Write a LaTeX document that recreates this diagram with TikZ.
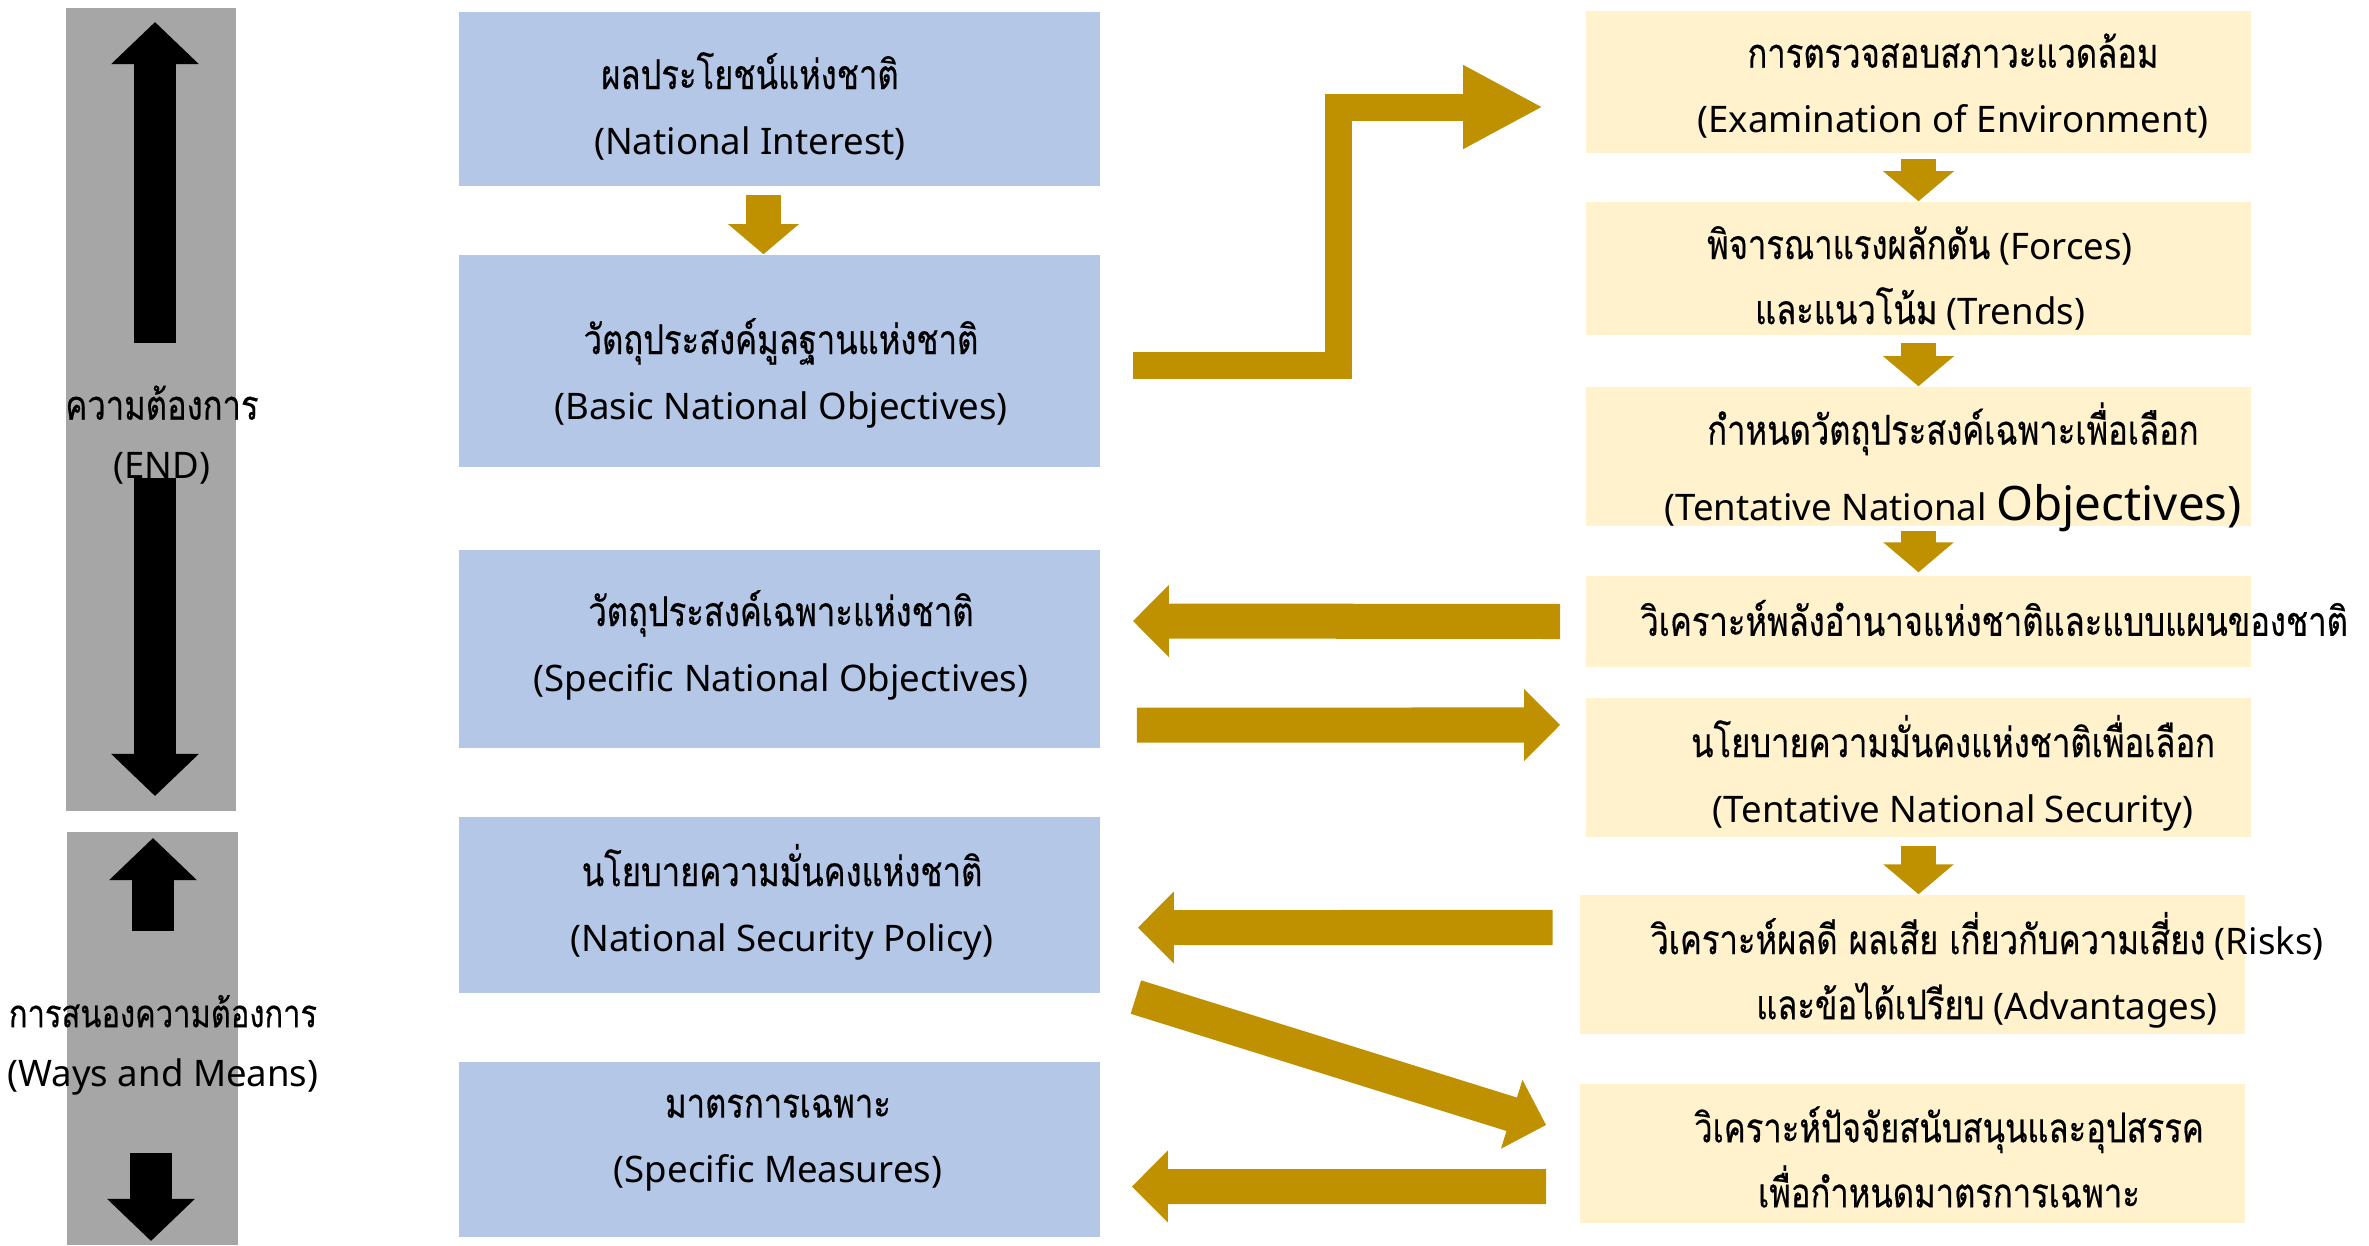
\documentclass[tikz,border=0pt]{standalone}
\usepackage{fontspec}
\setmainfont{Noto Sans}
\newfontfamily\thaifont[Script=Thai,Scale=1.12,FakeStretch=0.8,FakeBold=0.4]{Loma}
\usetikzlibrary{arrows.meta,positioning}
\definecolor{boxblue}{RGB}{180,199,231}
\definecolor{boxyellow}{RGB}{255,242,204}
\definecolor{arrowgold}{RGB}{191,144,0}
\definecolor{bargrey}{RGB}{166,166,166}
\newcommand{\tht}[1]{{\thaifont #1}}

\begin{document}
\begin{tikzpicture}[x=0.01cm,y=-0.01cm,
  bbox/.style={fill=boxblue,inner sep=0pt,minimum width=6.41cm},
  ybox/.style={fill=boxyellow,inner sep=0pt,minimum width=6.65cm},
  gbar/.style={fill=bargrey,inner sep=0pt,minimum width=1.7cm},
  txt/.style={align=center,inner sep=0pt,font=\fontsize{10.4}{18.5}\selectfont},
  sidetxt/.style={align=center,inner sep=0pt,font=\fontsize{10.4}{16.8}\selectfont},
  bigarrow/.style={arrowgold,line width=0.35cm,-{Triangle[length=0.36cm 0,width=0.7cm 0]}},
  smallarrow/.style={arrowgold,line width=0.35cm,-{Triangle[length=0.3cm 0,width=0.69cm 0]}},
  bentarrow/.style={arrowgold,line width=0.27cm,line join=miter,-{Triangle[length=0.8cm 0,width=0.78cm 0]}},
  blackarrow/.style={black,line width=0.42cm,-{Triangle[length=0.42cm 0,width=0.85cm 0]}}]
\useasboundingbox (0,0) rectangle (2369,1245);

% left bars
\node[gbar,minimum height=8.03cm] (g1) at (151,409.5) {};
\node[gbar,minimum height=4.13cm] (g2) at (152.5,1038.5) {};
\draw[blackarrow] (155,343) -- (155,22);
\draw[blackarrow] (155,478) -- (155,796);
\draw[blackarrow] (153,931) -- (153,838);
\draw[blackarrow] (151,1153) -- (151,1241);
\node[sidetxt] (need) at (162,435) {\tht{ความต้องการ}\\(END)};
\node[sidetxt] (means) at (163,1045) {{\fontsize{9.8}{16.8}\selectfont\tht{การสนองความต้องการ}}\\(Ways and Means)};

% blue column
\node[bbox,minimum height=1.74cm] (b1) at (779.5,99) {};
\node[bbox,minimum height=2.12cm] (b2) at (779.5,361) {};
\node[bbox,minimum height=1.98cm] (b3) at (779.5,649) {};
\node[bbox,minimum height=1.76cm] (b4) at (779.5,905) {};
\node[bbox,minimum height=1.75cm] (b5) at (779.5,1149.5) {};
\node[txt] (tb1) at (750,106) {\tht{ผลประโยชน์แห่งชาติ}\\(National Interest)};
\node[txt] (tb2) at (781,373) {\tht{วัตถุประสงค์มูลฐานแห่งชาติ}\\(Basic National Objectives)};
\node[txt] (tb3) at (781,645) {\tht{วัตถุประสงค์เฉพาะแห่งชาติ}\\(Specific National Objectives)};
\node[txt] (tb4) at (782,902) {\tht{นโยบายความมั่นคงแห่งชาติ}\\(National Security Policy)};
\node[txt] (tb5) at (778,1143) {\tht{มาตรการเฉพาะ}\\(Specific Measures)};

% yellow column
\node[ybox,minimum height=1.42cm] (y1) at (1918.5,82) {};
\node[ybox,minimum height=1.33cm] (y2) at (1918.5,268.5) {};
\node[ybox,minimum height=1.39cm] (y3) at (1918.5,456.5) {};
\node[ybox,minimum height=0.91cm] (y4) at (1918.5,621.5) {};
\node[ybox,minimum height=1.39cm] (y5) at (1918.5,767.5) {};
\node[ybox,minimum height=1.39cm] (y6) at (1912.5,964.5) {};
\node[ybox,minimum height=1.39cm] (y7) at (1912.5,1153.5) {};
\node[txt] (ty1) at (1953,86) {\tht{การตรวจสอบสภาวะแวดล้อม}\\(Examination of Environment)};
\node[txt] (ty2) at (1920,278) {\tht{พิจารณาแรงผลักดัน} (Forces)\\\tht{และแนวโน้ม} (Trends)};
\node[txt] (ty3) at (1953,467) {\tht{กำหนดวัตถุประสงค์เฉพาะเพื่อเลือก}\\[3pt](Tentative National {\fontsize{13.5}{18.5}\selectfont Objectives)}};
\node[txt] (ty4) at (1994,618) {\tht{วิเคราะห์พลังอำนาจแห่งชาติและแบบแผนของชาติ}};
\node[txt] (ty5) at (1953,773) {\tht{นโยบายความมั่นคงแห่งชาติเพื่อเลือก}\\(Tentative National Security)};
\node[txt] (ty6) at (1987,970) {\tht{วิเคราะห์ผลดี ผลเสีย เกี่ยวกับความเสี่ยง} (Risks)\\\tht{และข้อได้เปรียบ} (Advantages)};
\node[txt] (ty7) at (1949,1157) {\tht{วิเคราะห์ปัจจัยสนับสนุนและอุปสรรค}\\\tht{เพื่อกำหนดมาตรการเฉพาะ}};

% small arrows down the columns
\draw[smallarrow] ([xshift=-0.16cm,yshift=-0.08cm]b1.south) -- ([xshift=-0.16cm]b2.north);
\draw[smallarrow] ([yshift=-0.05cm]y1.south) -- (y2.north);
\draw[smallarrow] ([yshift=-0.07cm]y2.south) -- (y3.north);
\draw[smallarrow] ([yshift=-0.04cm]y3.south) -- ([yshift=0.03cm]y4.north);
\draw[smallarrow] ([yshift=-0.08cm]y5.south) -- (y5.south |- y6.north);

% big arrows between the columns
\draw[bentarrow] ([xshift=0.32cm,yshift=-0.04cm]b2.east) -- ++(206,0) |- ([xshift=-0.42cm,yshift=-0.25cm]y1.west);
\draw[bigarrow] ([xshift=-0.25cm]y4.west) -- ([xshift=0.32cm,yshift=0.28cm]b3.east);
\draw[bigarrow] ([xshift=0.36cm,yshift=-0.76cm]b3.east) -- ([xshift=-0.25cm,yshift=0.425cm]y5.west);
\draw[bigarrow] ([xshift=-0.265cm,yshift=0.37cm]y6.west) -- ([xshift=0.37cm,yshift=-0.225cm]b4.east);
\draw[bigarrow] ([xshift=0.35cm,yshift=-0.92cm]b4.east) -- ([xshift=-0.33cm,yshift=0.285cm]y7.west);
\draw[bigarrow] ([xshift=-0.33cm,yshift=-0.33cm]y7.west) -- ([xshift=0.31cm,yshift=-0.37cm]b5.east);
\end{tikzpicture}
\end{document}
